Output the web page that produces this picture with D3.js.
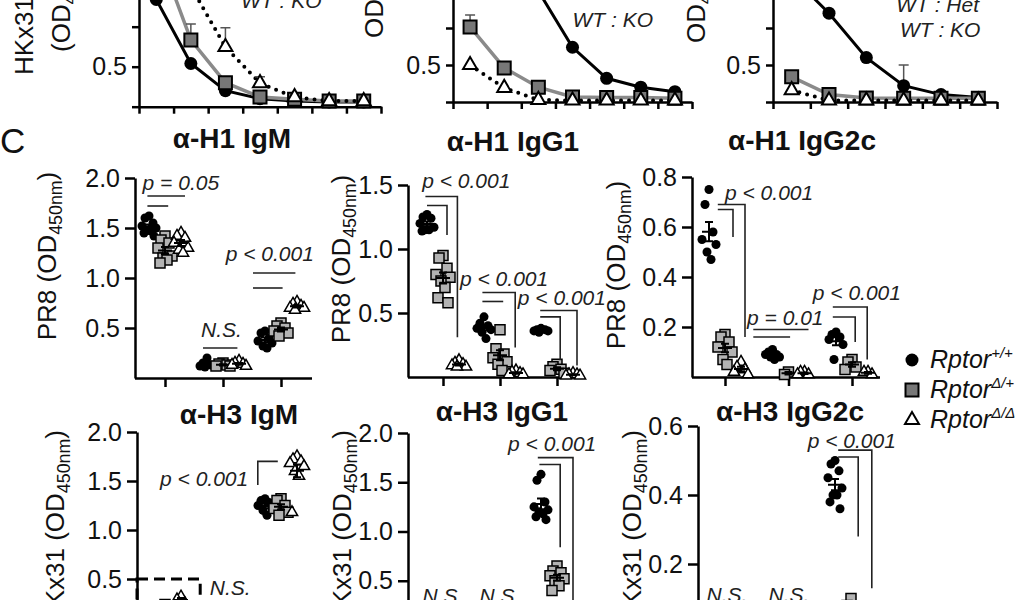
<!DOCTYPE html>
<html>
<head>
<meta charset="utf-8">
<script src="https://cdn.jsdelivr.net/npm/d3@7"></script>
<style>
body { margin: 0; background: #fff; }
svg { display: block; font-family: "Liberation Sans", Arial, sans-serif; }
.axis path, .axis line { stroke: #000; stroke-width: 2.5; }
.axis text { font-size: 25px; fill: #111; font-family: "Liberation Sans", Arial, sans-serif; }
.ann { font-size: 21px; font-style: italic; fill: #222; }
.title { font-size: 28px; font-weight: bold; fill: #111; }
.ylab { font-size: 26px; fill: #111; }
</style>
</head>
<body>
<svg id="fig" width="1024" height="600"></svg>
<script>
// ---------- data ----------
const genotypes = ["wt", "het", "ko"]
const groups = ["1", "2", "3"]          // comparison groups (labels below the crop)
const legendLabels = [["Rptor", "+/+"], ["Rptor", "Δ/+"], ["Rptor", "Δ/Δ"]]

// top row: HKx31 titration curves (serial dilutions)
const topTicks = [0.25, 0.5, 0.75, 1.0]
const topTickLabels = ["", "0.5", "", "1.0"]
const top1WT  = [0.92, 0.52, 0.35, 0.30, 0.285, 0.28, 0.28]
const top1Het = [1.25, 0.667, 0.40, 0.31, 0.297, 0.285, 0.285]
const top1KO  = [1.2, 1.0, 0.623, 0.397, 0.31, 0.285, 0.285]
const top1HetErr = [0, 0.10, 0, 0, 0, 0, 0]
const top1KOErr  = [0, 0, 0.12, 0.04, 0, 0, 0]
const top2WT  = [1.3, 1.2, 1.0, 0.62, 0.41, 0.35, 0.32]
const top2Het = [0.757, 0.48, 0.35, 0.284, 0.28, 0.28, 0.275]
const top2KO  = [0.5, 0.345, 0.264, 0.26, 0.26, 0.26, 0.26]
const top2HetErr = [0.08, 0, 0, 0, 0, 0, 0]
const top3WT  = [1.1, 0.85, 0.55, 0.36, 0.30, 0.28]
const top3Het = [0.42, 0.30, 0.277, 0.275, 0.275, 0.275]
const top3KO  = [0.33, 0.26, 0.26, 0.26, 0.26, 0.26]
const top3WTErr = [0, 0, 0, 0.14, 0, 0]

// C: anti-H1 (PR8) ELISA, one array per genotype, one list per group
const h1IgMWT  = [[1.62, 1.6, 1.55, 1.52, 1.5, 1.48, 1.47, 1.45, 1.42], [0.2, 0.15, 0.13, 0.12, 0.12, 0.11], [0.47, 0.45, 0.4, 0.37, 0.35, 0.32, 0.3]]
const h1IgMHet = [[1.42, 1.38, 1.35, 1.3, 1.22, 1.2, 1.18, 1.15], [0.15, 0.14, 0.13, 0.12, 0.12], [0.55, 0.52, 0.5, 0.47, 0.45, 0.42]]
const h1IgMKO  = [[1.45, 1.42, 1.4, 1.35, 1.3, 1.28, 1.25], [0.17, 0.15, 0.14, 0.13, 0.12], [0.76, 0.74, 0.72, 0.7, 0.7, 0.68]]

const h1IgG1WT  = [[1.27, 1.25, 1.24, 1.2, 1.17, 1.15, 1.15, 1.14], [0.47, 0.42, 0.4, 0.38, 0.37, 0.35, 0.3], [0.38, 0.37, 0.37, 0.36, 0.36, 0.35]]
const h1IgG1Het = [[0.95, 0.93, 0.85, 0.8, 0.78, 0.75, 0.7, 0.62, 0.58], [0.37, 0.22, 0.18, 0.15, 0.12, 0.1, 0.05], [0.1, 0.08, 0.06, 0.05, 0.03]]
const h1IgG1KO  = [[0.13, 0.11, 0.1, 0.09, 0.08, 0.08], [0.05, 0.04, 0.03, 0.02, 0.02], [0.03, 0.02, 0.02, 0.01, 0.01]]

const h1IgG2cWT  = [[0.75, 0.69, 0.58, 0.55, 0.53, 0.5, 0.47], [0.11, 0.1, 0.09, 0.09, 0.08, 0.08, 0.07], [0.18, 0.17, 0.16, 0.15, 0.13, 0.07]]
const h1IgG2cHet = [[0.17, 0.16, 0.14, 0.12, 0.1, 0.07, 0.05], [0.02, 0.01], [0.07, 0.06, 0.04, 0.03]]
const h1IgG2cKO  = [[0.06, 0.04, 0.03, 0.02, 0.01], [0.02, 0.02, 0.01, 0.01], [0.02, 0.02, 0.01]]

// D: anti-H3 (HKx31) ELISA
const h3IgMWT  = [[0.22, 0.2, 0.18], [0.15, 0.13, 0.12], [1.32, 1.3, 1.28, 1.25, 1.22, 1.2, 1.15]]
const h3IgMHet = [[0.24, 0.22], [0.14, 0.12], [1.32, 1.3, 1.25, 1.22, 1.18, 1.15]]
const h3IgMKO  = [[0.32, 0.29, 0.25], [0.15, 0.13], [1.75, 1.72, 1.7, 1.68, 1.65, 1.6, 1.55, 1.18]]

const h3IgG1WT  = [[0.12, 0.1, 0.08], [0.1, 0.08], [1.58, 1.52, 1.3, 1.25, 1.22, 1.2, 1.18, 1.15, 1.12]]
const h3IgG1Het = [[0.1, 0.08], [0.09, 0.07], [0.65, 0.6, 0.58, 0.55, 0.52, 0.5, 0.45, 0.4]]
const h3IgG1KO  = [[0.08, 0.06], [0.07, 0.05], [0.06, 0.05, 0.04]]

const h3IgG2cWT  = [[0.03, 0.02], [0.03, 0.02], [0.5, 0.49, 0.47, 0.45, 0.42, 0.4, 0.4, 0.38, 0.36]]
const h3IgG2cHet = [[0.02], [0.02], [0.1, 0.08, 0.07]]
const h3IgG2cKO  = [[0.02], [0.02], [0.02, 0.02]]

// significance marks, in [group, genotype-step offset, value]
const h1IgMBrackets = [[[0, -1.1, 1.82], [0, 1.25, 1.82]], [[0, -1.1, 1.72], [0, 0.2, 1.72]],
  [[1, -1.25, 0.30], [1, 0.9, 0.30]], [[2, -1.75, 1.05], [2, 0.9, 1.05]], [[2, -1.75, 0.90], [2, 0.1, 0.90]]]
const h1IgMNotes = [["p = 0.05", 0, -1.4, 1.88, "start"], ["N.S.", 1, -0.1, 0.41, "middle"], ["p < 0.001", 2, -0.7, 1.17, "middle"]]

const h1IgG1Brackets = [[[0, -1.1, 1.41], [0, 0.9, 1.41], [0, 0.9, 0.31]], [[0, -1.0, 1.34], [0, 0.25, 1.34], [0, 0.25, 1.11]],
  [[1, -1.1, 0.66], [1, 0.95, 0.66], [1, 0.95, 0.23]], [[1, -1.1, 0.59], [1, 0.2, 0.59]],
  [[2, -1.05, 0.52], [2, 1.25, 0.52], [2, 1.25, 0.09]], [[2, -1.05, 0.47], [2, 0.2, 0.47], [2, 0.2, 0.13]]]
const h1IgG1Notes = [["p < 0.001", 0, -1.3, 1.48, "start"], ["p < 0.001", 1, -2.5, 0.71, "start"], ["p < 0.001", 2, -2.45, 0.56, "start"]]

const h1IgG2cBrackets = [[[0, -0.45, 0.69], [0, 1.25, 0.69], [0, 1.25, 0.16]], [[0, -0.45, 0.67], [0, 0.5, 0.67], [0, 0.5, 0.56]],
  [[1, -2.2, 0.19], [1, 1.25, 0.19]], [[1, -2.2, 0.16], [1, 0.1, 0.16]],
  [[2, -1.2, 0.28], [2, 0.95, 0.28], [2, 0.95, 0.07]], [[2, -1.2, 0.24], [2, 0.2, 0.24], [2, 0.2, 0.14]]]
const h1IgG2cNotes = [["p < 0.001", 0, 0, 0.71, "start"], ["p = 0.01", 1, -0.2, 0.21, "middle"], ["p < 0.001", 2, -2.45, 0.31, "start"]]

const h3IgMBrackets = [[[2, -1.45, 1.46], [2, -1.45, 1.70], [2, -0.2, 1.70]]]
const h3IgMNotes = [["p < 0.001", 2, -2.05, 1.45, "end"], ["N.S.", 0, 2.8, 0.34, "start"]]

const h3IgG1Brackets = [[[2, -1.2, 1.75], [2, 1.0, 1.75], [2, 1.0, 0.0]], [[2, -1.1, 1.68], [2, 0.2, 1.68], [2, 0.2, 0.84]]]
const h3IgG1Notes = [["p < 0.001", 2, -0.3, 1.82, "middle"], ["N.S.", 0, 0, 0.27, "middle"], ["N.S.", 1, 0, 0.27, "middle"]]

const h3IgG2cBrackets = [[[2, -0.8, 0.53], [2, 1.3, 0.53], [2, 1.3, 0.13]], [[2, -0.8, 0.51], [2, 0.45, 0.51], [2, 0.45, 0.28]]]
const h3IgG2cNotes = [["p < 0.001", 2, 0.05, 0.536, "middle"], ["N.S.", 0, 0, 0.09, "middle"], ["N.S.", 1, 0, 0.09, "middle"]]

// ---------- drawing ----------
const svg = d3.select("#fig")
const jit = [0, -4, 4, -7, 7, -2, 2, -5, 5]

function marker(sel, geno, big) {
  const sizes = big ? [133, 169, 85] : [64, 100, 55]
  const types = [d3.symbolCircle, d3.symbolSquare, d3.symbolTriangle]
  const i = genotypes.indexOf(geno)
  sel.attr("d", d3.symbol(types[i], sizes[i]))
    .attr("fill", i == 0 ? "#000" : i == 1 ? (big ? "#777" : "#b3b3b3") : "#fff")
    .attr("stroke", "#000")
    .attr("stroke-width", i == 0 ? 0 : big ? 2 : 1.5)
}

function rotLabel(x, y, anchor, size, main, sub, tail) {
  const t = svg.append("text").attr("class", "ylab").attr("font-size", size)
    .attr("text-anchor", anchor)
    .attr("transform", `translate(${x},${y}) rotate(-90)`)
  t.append("tspan").text(main)
  if (sub) t.append("tspan").attr("dy", 6).attr("font-size", size * 0.66).text(sub)
  if (tail) t.append("tspan").attr("dy", -6).text(tail)
}

function curvePanel(c) {
  const n = c.wt.length
  const x = d3.scaleLinear().domain([0, n]).range([c.ax, c.axEnd])
  const y = d3.scaleLinear().domain([0.25, 1]).range(c.yr)
  const g = svg.append("g")
  g.append("g").attr("class", "axis").attr("transform", `translate(${c.ax},0)`)
    .call(d3.axisLeft(y).tickValues(topTicks).tickFormat((v, i) => topTickLabels[i])
      .tickSize(7).tickSizeOuter(0).tickPadding(5))
  g.append("g").attr("class", "axis").attr("transform", `translate(0,${c.yr[0]})`)
    .call(d3.axisBottom(x).tickValues(d3.range(n + 1)).tickFormat("").tickSize(7).tickSizeOuter(0))

  const line = d3.line().x((d, i) => x(i + 0.5)).y(d => y(d))
  const series = [["wt", c.wt], ["het", c.het], ["ko", c.ko]]
  g.append("path").attr("d", line(c.wt)).attr("fill", "none").attr("stroke", "#000").attr("stroke-width", 3)
  g.append("path").attr("d", line(c.het)).attr("fill", "none").attr("stroke", "#8a8a8a").attr("stroke-width", 3.5)
  g.append("path").attr("d", line(c.ko)).attr("fill", "none").attr("stroke", "#000")
    .attr("stroke-width", 4).attr("stroke-linecap", "round").attr("stroke-dasharray", "0,8")

  series.forEach(([geno, vals]) => {
    const err = c.err[geno]
    if (err) {
      vals.forEach((v, i) => {
        if (!err[i]) return
        const cx = x(i + 0.5)
        g.append("path").attr("d", `M${cx},${y(v)}V${y(v + err[i])}M${cx - 5},${y(v + err[i])}H${cx + 5}`)
          .attr("stroke", "#555").attr("stroke-width", 1.5).attr("fill", "none")
      })
    }
    g.selectAll(null).data(vals).join("path")
      .attr("transform", (d, i) => `translate(${x(i + 0.5)},${y(d)})`)
      .call(marker, geno, true)
  })
  c.notes.forEach(([t, i, v]) => {
    g.append("text").attr("class", "ann").attr("x", x(i)).attr("y", y(v)).text(t)
  })
}

function scatterPanel(c) {
  const x = d3.scalePoint().domain(groups).range(c.xr)
  const off = d3.scalePoint().domain(genotypes).range([-16, 16])
  const y = d3.scaleLinear().domain([0, d3.max(c.ticks)]).range(c.yr)
  const px = (gi, k) => x(groups[gi]) + k * off.step()
  const g = svg.append("g")

  g.append("text").attr("class", "title").attr("text-anchor", "middle")
    .attr("x", c.titleX).attr("y", c.titleY).text(c.title)

  g.append("g").attr("class", "axis").attr("transform", `translate(${c.ax},0)`)
    .call(d3.axisLeft(y).tickValues(c.ticks).tickFormat(d3.format(".1f"))
      .tickSize(10).tickSizeOuter(0).tickPadding(5))
  const xa = g.append("g").attr("class", "axis").attr("transform", `translate(0,${c.yr[0]})`)
    .call(d3.axisBottom(x).tickFormat("").tickSize(9).tickSizeOuter(0))
  xa.select(".domain").attr("d", `M${c.ax},0.5H${c.axEnd}`)

  if (c.box) {
    g.append("rect").attr("x", c.ax).attr("y", y(c.box[2]))
      .attr("width", px(c.box[0], c.box[1]) - c.ax).attr("height", y(0) - y(c.box[2]))
      .attr("fill", "none").attr("stroke", "#000").attr("stroke-width", 3).attr("stroke-dasharray", "11,6")
  }

  c.data.forEach((series, si) => {
    const geno = genotypes[si]
    series.forEach((vals, gi) => {
      const cx = x(groups[gi]) + off(geno)
      g.selectAll(null).data(vals).join("path")
        .attr("transform", (d, i) => `translate(${cx + jit[i % jit.length]},${y(d)})`)
        .call(marker, geno, false)
      const m = d3.mean(vals)
      const se = vals.length > 1 ? d3.deviation(vals) / Math.sqrt(vals.length) : 0
      g.append("path")
        .attr("d", `M${cx - 7},${y(m)}H${cx + 7}M${cx},${y(m - se)}V${y(m + se)}M${cx - 4},${y(m + se)}H${cx + 4}M${cx - 4},${y(m - se)}H${cx + 4}`)
        .attr("stroke", "#000").attr("stroke-width", 2).attr("fill", "none")
    })
  })

  const ln = d3.line().x(d => px(d[0], d[1])).y(d => y(d[2]))
  g.selectAll(null).data(c.brackets).join("path")
    .attr("d", ln).attr("fill", "none").attr("stroke", "#222").attr("stroke-width", 1.6)
  g.selectAll(null).data(c.notes).join("text")
    .attr("class", "ann")
    .attr("x", d => px(d[1], d[2])).attr("y", d => y(d[3]))
    .attr("text-anchor", d => d[4])
    .text(d => d[0])
}

// top row
curvePanel({ ax: 139, axEnd: 381, yr: [106.7, -13.3], wt: top1WT, het: top1Het, ko: top1KO,
  err: { het: top1HetErr, ko: top1KOErr }, notes: [["WT : KO", 2.95, 0.87]] })
curvePanel({ ax: 453, axEnd: 692, yr: [102, -9], wt: top2WT, het: top2Het, ko: top2KO,
  err: { het: top2HetErr }, notes: [["WT : KO", 3.5, 0.76]] })
curvePanel({ ax: 773, axEnd: 997, yr: [102, -9], wt: top3WT, het: top3Het, ko: top3KO,
  err: { wt: top3WTErr }, notes: [["WT : Het", 3.3, 0.86], ["WT : KO", 3.4, 0.69]] })

rotLabel(33, 75, "start", 24, "HKx31")
rotLabel(70, 52, "start", 24, "(OD", "450nm", ")")
rotLabel(383, 38, "start", 24, "OD", "450nm", ")")
rotLabel(705, 43, "start", 24, "OD", "450nm", ")")

// panel letter
svg.append("text").attr("x", 0).attr("y", 153).attr("font-size", 35).attr("fill", "#111").text("C")

// middle row
scatterPanel({ title: "α-H1 IgM", titleX: 232, titleY: 148, ax: 135, axEnd: 312, xr: [165, 281], yr: [378, 178],
  ticks: [0.5, 1.0, 1.5, 2.0], data: [h1IgMWT, h1IgMHet, h1IgMKO], brackets: h1IgMBrackets, notes: h1IgMNotes })
scatterPanel({ title: "α-H1 IgG1", titleX: 513, titleY: 151, ax: 408, axEnd: 583, xr: [443, 557], yr: [377, 185],
  ticks: [0.5, 1.0, 1.5], data: [h1IgG1WT, h1IgG1Het, h1IgG1KO], brackets: h1IgG1Brackets, notes: h1IgG1Notes })
scatterPanel({ title: "α-H1 IgG2c", titleX: 802, titleY: 150, ax: 692, axEnd: 880, xr: [725, 852], yr: [377, 177],
  ticks: [0.2, 0.4, 0.6, 0.8], data: [h1IgG2cWT, h1IgG2cHet, h1IgG2cKO], brackets: h1IgG2cBrackets, notes: h1IgG2cNotes })

rotLabel(56, 256, "middle", 27, "PR8 (OD", "450nm", ")")
rotLabel(350, 259, "middle", 27, "PR8 (OD", "450nm", ")")
rotLabel(625, 265, "middle", 27, "PR8 (OD", "450nm", ")")

// bottom row
scatterPanel({ title: "α-H3 IgM", titleX: 239, titleY: 424, ax: 137, axEnd: 312, xr: [165, 281], yr: [628, 432],
  ticks: [0.5, 1.0, 1.5, 2.0], data: [h3IgMWT, h3IgMHet, h3IgMKO], brackets: h3IgMBrackets, notes: h3IgMNotes,
  box: [0, 2.2, 0.5] })
scatterPanel({ title: "α-H3 IgG1", titleX: 502, titleY: 421, ax: 408, axEnd: 583, xr: [443, 557], yr: [630, 433],
  ticks: [0.5, 1.0, 1.5, 2.0], data: [h3IgG1WT, h3IgG1Het, h3IgG1KO], brackets: h3IgG1Brackets, notes: h3IgG1Notes })
scatterPanel({ title: "α-H3 IgG2c", titleX: 790, titleY: 421, ax: 698, axEnd: 880, xr: [727, 851], yr: [633, 426],
  ticks: [0.2, 0.4, 0.6], data: [h3IgG2cWT, h3IgG2cHet, h3IgG2cKO], brackets: h3IgG2cBrackets, notes: h3IgG2cNotes })

rotLabel(64, 430, "end", 27, "HKx31 (OD", "450nm", ")")
rotLabel(351, 430, "end", 27, "HKx31 (OD", "450nm", ")")
rotLabel(641, 430, "end", 27, "HKx31 (OD", "450nm", ")")

// legend
const legend = svg.append("g").attr("transform", "translate(912,360)")
legendLabels.forEach(([name, sup], i) => {
  const row = legend.append("g").attr("transform", `translate(0,${i * 30})`)
  row.append("path").call(marker, genotypes[i], true)
  const t = row.append("text").attr("x", 18).attr("y", 8).attr("font-size", 25)
    .attr("font-style", "italic").attr("fill", "#111")
  t.append("tspan").text(name)
  t.append("tspan").attr("dy", -10).attr("font-size", 15).text(sup)
})
</script>
</body>
</html>
